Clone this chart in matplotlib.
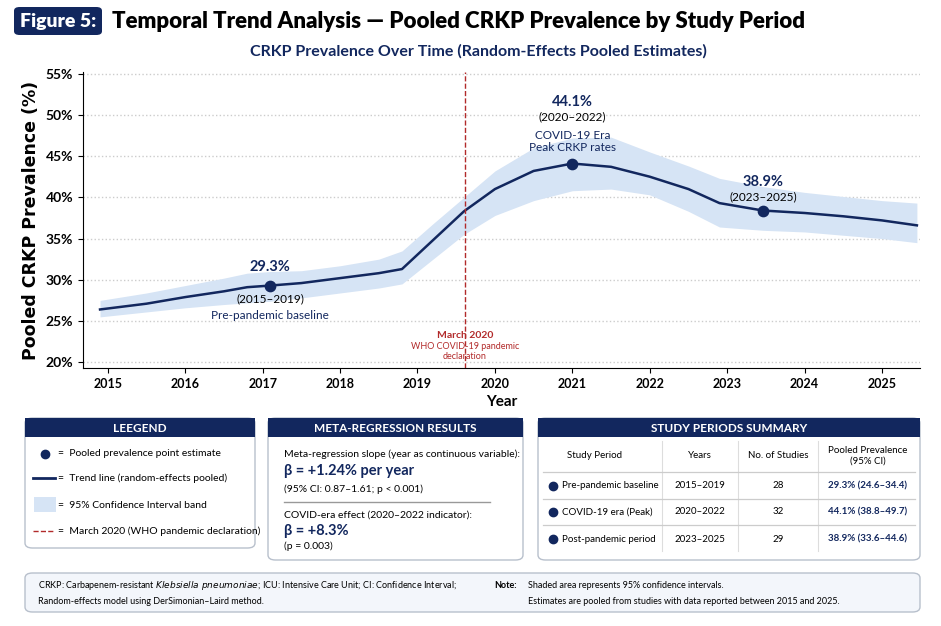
import matplotlib
matplotlib.use("Agg")
import matplotlib.pyplot as plt
from matplotlib.patches import FancyBboxPatch, Rectangle
from matplotlib.lines import Line2D

plt.rcParams['font.family'] = ['Lato', 'DejaVu Sans']

NAVY = '#12275e'
BAND = '#d6e4f5'
RED = '#b22a2a'

years = [2014.9, 2015.5, 2016.0, 2016.5, 2016.8, 2017.1, 2017.5, 2018.0, 2018.5, 2018.8,
         2019.2, 2019.6, 2020.0, 2020.5, 2021.0, 2021.5, 2022.0, 2022.5, 2022.9, 2023.46,
         2024.0, 2024.5, 2025.0, 2025.45]
trend = [26.4, 27.1, 27.9, 28.6, 29.1, 29.3, 29.6, 30.2, 30.8, 31.3,
         34.8, 38.3, 41.0, 43.2, 44.1, 43.7, 42.5, 41.0, 39.3, 38.4,
         38.1, 37.7, 37.2, 36.6]
upper = [27.5, 28.4, 29.3, 30.2, 30.8, 31.0, 31.1, 31.7, 32.5, 33.5,
         36.8, 40.0, 43.2, 46.0, 47.2, 47.3, 45.5, 43.8, 42.3, 41.3,
         40.6, 40.1, 39.6, 39.3]
lower = [25.5, 26.1, 26.6, 27.0, 27.2, 27.4, 27.8, 28.4, 29.0, 29.5,
         32.5, 35.5, 37.8, 39.6, 40.8, 41.0, 40.3, 38.3, 36.4, 36.0,
         35.8, 35.4, 35.0, 34.5]

pt_years = [2017.1, 2021.0, 2023.46]
pt_vals = [29.3, 44.1, 38.4]
pt_labels = ['29.3%', '44.1%', '38.9%']
pt_periods = ['(2015–2019)', '(2020–2022)', '(2023–2025)']
covid_x = 2019.61

periods = ['Pre-pandemic baseline', 'COVID-19 era (Peak)', 'Post-pandemic period']
period_years = ['2015–2019', '2020–2022', '2023–2025']
n_studies = ['28', '32', '29']
pooled = ['29.3% (24.6–34.4)', '44.1% (38.8–49.7)', '38.9% (33.6–44.6)']

W, H = 941, 626
fig = plt.figure(figsize=(W/100, H/100), dpi=100)

def fx(x): return x / W
def fy(y): return 1 - y / H

def text(x, y, s, **kw):
    fig.text(fx(x), fy(y), s, **kw)

# Title
fig.patches.append(FancyBboxPatch((fx(14), fy(35)), fx(88), 28/H, boxstyle="round,pad=0,rounding_size=0.006",
                                  transform=fig.transFigure, fc=NAVY, ec='none'))
text(58, 21, 'Figure 5:', color='white', fontsize=14, fontweight='heavy', ha='center', va='center')
text(112, 21, 'Temporal Trend Analysis — Pooled CRKP Prevalence by Study Period', color='black',
     fontsize=16, fontweight='heavy', va='center')
text(478, 51, 'CRKP Prevalence Over Time (Random-Effects Pooled Estimates)', color=NAVY,
     fontsize=11.5, fontweight='bold', ha='center', va='center')

# Main axes
ax = fig.add_axes([fx(83), fy(368), fx(920) - fx(83), (368 - 72) / H])
ax.fill_between(years, lower, upper, color=BAND, lw=0)
ax.plot(years, trend, color=NAVY, lw=1.8)
ax.scatter(pt_years, pt_vals, s=55, color=NAVY, zorder=5)
ax.axvline(covid_x, color=RED, ls='--', lw=1)
ax.set_xlim(2014.68, 2025.49)
ax.set_ylim(19.3, 55.2)
ax.set_yticks(range(20, 56, 5))
ax.set_yticklabels([f'{v}%' for v in range(20, 56, 5)], fontsize=10)
ax.set_xticks(range(2015, 2026))
ax.tick_params(axis='x', labelsize=9)
for t in ax.get_xticklabels() + ax.get_yticklabels():
    t.set_fontweight('bold')
ax.grid(axis='y', ls=':', color='#cccccc', lw=1)
ax.set_axisbelow(True)
for s in ['top', 'right']:
    ax.spines[s].set_visible(False)
ax.set_xlabel('Year', fontsize=11, fontweight='bold', labelpad=4)
ax.set_ylabel('Pooled CRKP Prevalence (%)', fontsize=12.5, fontweight='bold', family='DejaVu Sans')

ax.text(pt_years[0], 31.5, pt_labels[0], color=NAVY, fontsize=10.5, fontweight='bold', ha='center', va='center')
ax.text(pt_years[0], 27.7, pt_periods[0], fontsize=8.5, ha='center', va='center')
ax.text(pt_years[0], 25.7, 'Pre-pandemic baseline', color=NAVY, fontsize=8.5, ha='center', va='center')
ax.text(pt_years[1], 51.6, pt_labels[1], color=NAVY, fontsize=10.5, fontweight='bold', ha='center', va='center')
ax.text(pt_years[1], 49.8, pt_periods[1], fontsize=8.5, ha='center', va='center')
ax.text(pt_years[1], 46.8, 'COVID-19 Era\nPeak CRKP rates', color=NAVY, fontsize=8.5, ha='center', va='center',
        linespacing=1.15)
ax.text(pt_years[2], 41.8, pt_labels[2], color=NAVY, fontsize=10.5, fontweight='bold', ha='center', va='center')
ax.text(pt_years[2], 40.1, pt_periods[2], fontsize=8.5, ha='center', va='center')
ax.text(covid_x, 23.3, 'March 2020', color=RED, fontsize=7.5, fontweight='bold', ha='center', va='center')
ax.text(covid_x, 21.3, 'WHO COVID-19 pandemic\ndeclaration', color=RED, fontsize=6.5, ha='center', va='center',
        linespacing=1.15)

def panel(x0, y0, x1, y1, title):
    fig.patches.append(FancyBboxPatch((fx(x0), fy(y1)), fx(x1 - x0), (y1 - y0) / H,
                                      boxstyle="round,pad=0,rounding_size=0.008", transform=fig.transFigure,
                                      fc='white', ec='#b8c0cc', lw=1))
    fig.patches.append(Rectangle((fx(x0), fy(y0 + 19)), fx(x1 - x0), 19 / H, transform=fig.transFigure,
                                 fc=NAVY, ec='none'))
    text((x0 + x1) / 2, y0 + 10, title, color='white', fontsize=8.5, fontweight='bold', ha='center', va='center')

# Legend panel
panel(25, 418, 255, 548, 'LEEGEND')
fig.add_artist(Line2D([fx(45)], [fy(454)], marker='o', ms=6, color=NAVY, transform=fig.transFigure))
text(58, 454, '=  Pooled prevalence point estimate', fontsize=7.5, va='center')
fig.add_artist(Line2D([fx(33), fx(55)], [fy(478)] * 2, color=NAVY, lw=2, transform=fig.transFigure))
text(58, 478, '=  Trend line (random-effects pooled)', fontsize=7.5, va='center')
fig.patches.append(Rectangle((fx(34), fy(512)), fx(22), 15 / H, transform=fig.transFigure, fc=BAND, ec='none'))
text(58, 505, '=  95% Confidence Interval band', fontsize=7.5, va='center')
fig.add_artist(Line2D([fx(33), fx(55)], [fy(531)] * 2, color=RED, lw=1, ls='--', transform=fig.transFigure))
text(58, 531, '=  March 2020 (WHO pandemic declaration)', fontsize=7.5, va='center')

# Meta-regression panel
panel(268, 418, 523, 560, 'META-REGRESSION RESULTS')
text(284, 454, 'Meta-regression slope (year as continuous variable):', fontsize=7.5, va='center')
text(284, 471, 'β = +1.24% per year', fontsize=10.5, fontweight='bold', color=NAVY, va='center')
text(284, 489, '(95% CI: 0.87–1.61; p < 0.001)', fontsize=7.5, va='center')
fig.add_artist(Line2D([fx(284), fx(490)], [fy(502)] * 2, color='#999999', lw=1, transform=fig.transFigure))
text(284, 515, 'COVID-era effect (2020–2022 indicator):', fontsize=7.5, va='center')
text(284, 531, 'β = +8.3%', fontsize=10.5, fontweight='bold', color=NAVY, va='center')
text(284, 546, '(p = 0.003)', fontsize=7.5, va='center')

# Summary panel
panel(538, 418, 920, 560, 'STUDY PERIODS SUMMARY')
cols = [595, 700, 778, 868]
for c in [662, 738, 818]:
    fig.add_artist(Line2D([fx(c)] * 2, [fy(441), fy(551)], color='#dddddd', lw=0.8, transform=fig.transFigure))
text(cols[0], 456, 'Study Period', fontsize=7, ha='center', va='center')
text(cols[1], 456, 'Years', fontsize=7, ha='center', va='center')
text(cols[2], 456, 'No. of Studies', fontsize=7, ha='center', va='center')
text(cols[3], 456, 'Pooled Prevalence\n(95% CI)', fontsize=7, ha='center', va='center', linespacing=1.3)
for yy in [472, 499, 525]:
    fig.add_artist(Line2D([fx(543), fx(915)], [fy(yy)] * 2, color='#cccccc', lw=0.9, transform=fig.transFigure))
rows_y = [486, 512, 539]
for i, ry in enumerate(rows_y):
    fig.add_artist(Line2D([fx(553)], [fy(ry)], marker='o', ms=6, color=NAVY, transform=fig.transFigure))
    text(562, ry, periods[i], fontsize=7, va='center')
    text(cols[1], ry, period_years[i], fontsize=7, ha='center', va='center')
    text(cols[2], ry, n_studies[i], fontsize=7, ha='center', va='center')
    text(cols[3], ry, pooled[i], fontsize=7, ha='center', va='center', color=NAVY, fontweight='bold')

# Footer
fig.patches.append(FancyBboxPatch((fx(25), fy(612)), fx(895), 39 / H, boxstyle="round,pad=0,rounding_size=0.008",
                                  transform=fig.transFigure, fc='#f3f6fb', ec='#b8c0cc', lw=1))
text(38, 585, 'CRKP: Carbapenem-resistant $\\it{Klebsiella\\ pneumoniae}$; ICU: Intensive Care Unit; CI: Confidence Interval;',
     fontsize=6.5, va='center')
text(38, 601, 'Random-effects model using DerSimonian–Laird method.', fontsize=6.5, va='center')
text(494, 585, 'Note:', fontsize=6.5, fontweight='bold', va='center')
text(528, 585, 'Shaded area represents 95% confidence intervals.', fontsize=6.5, va='center')
text(528, 601, 'Estimates are pooled from studies with data reported between 2015 and 2025.', fontsize=6.5, va='center')

fig.savefig('out.png', dpi=100, facecolor='white')
